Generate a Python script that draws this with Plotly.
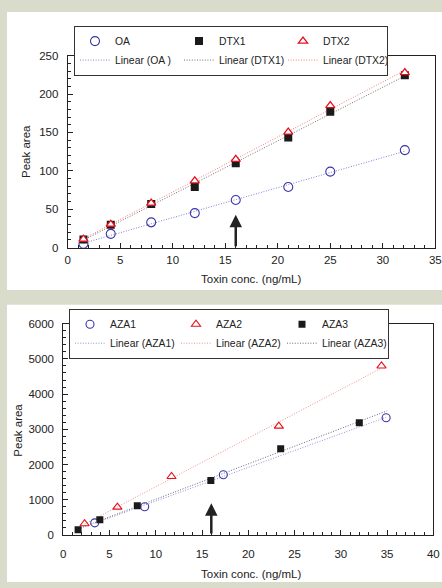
import numpy as np
import plotly.graph_objects as go

W, H = 442, 588
ML, MR = 63, 6           # horizontal margins (limit legend wrap width)
GW = W - ML - MR

# ---------------- data: top panel ----------------
top_x = [1.5, 4.1, 7.95, 12.1, 16.0, 21.0, 25.0, 32.1]
oa_y = [5, 18, 33, 45, 62, 79, 99, 127]
dtx1_y = [10.5, 29.8, 57, 79, 110, 143.5, 177, 224.5]
dtx2_y = [11, 30.5, 58, 87, 115, 150.5, 185, 228]

# ---------------- data: bottom panel ----------------
aza1_x = [3.4, 8.8, 17.3, 34.9]
aza1_y = [345, 800, 1710, 3330]
aza2_x = [2.3, 5.85, 11.7, 23.3, 34.4]
aza2_y = [320, 790, 1660, 3090, 4800]
aza3_x = [1.6, 3.95, 8.0, 15.95, 23.5, 32.0]
aza3_y = [150, 430, 830, 1550, 2450, 3190]
aza3_trend_end = 35.0

arrow_x = 16
top_arrow_tip = 43
bottom_arrow_tip = 900

FONT = "Liberation Sans, Arial, sans-serif"
TXT = "#222222"
DOTS = "1px,1.6px"

def px_x(p):
    return (p - ML) / GW

def px_y(p):
    return 1 - p / H

def trend(x, y, x_end=None):
    k, b = np.polyfit(x, y, 1)
    x0 = min(x)
    x1 = max(x) if x_end is None else x_end
    xs = np.array([x0, x1])
    return xs, k * xs + b

fig = go.Figure()

# ---- top panel trend lines (drawn first, below markers)
for name, ys, col, rank in [("Linear (OA )", oa_y, "#7f7fd6", 4),
                            ("Linear (DTX1)", dtx1_y, "#707070", 5),
                            ("Linear (DTX2)", dtx2_y, "#f07c7c", 6)]:
    xs, ys_fit = trend(top_x, ys)
    fig.add_trace(go.Scatter(x=xs, y=ys_fit, mode="lines", name=name,
                             line=dict(color=col, width=1, dash=DOTS),
                             xaxis="x", yaxis="y", legend="legend", legendrank=rank))

fig.add_trace(go.Scatter(x=top_x, y=oa_y, mode="markers", name="OA",
                         marker=dict(symbol="circle-open", size=9, color="#3c35a8",
                                     line=dict(width=1.1)),
                         xaxis="x", yaxis="y", legend="legend", legendrank=1))
fig.add_trace(go.Scatter(x=top_x, y=dtx1_y, mode="markers", name="DTX1",
                         marker=dict(symbol="square", size=8, color="#1a1a1a"),
                         xaxis="x", yaxis="y", legend="legend", legendrank=2))
fig.add_trace(go.Scatter(x=top_x, y=dtx2_y, mode="markers", name="DTX2",
                         marker=dict(symbol="triangle-up", size=8, color="white",
                                     line=dict(color="#e3101e", width=1.3)),
                         xaxis="x", yaxis="y", legend="legend", legendrank=3))

# ---- bottom panel trend lines
for name, xs_d, ys, col, rank, xend in [("Linear (AZA1)", aza1_x, aza1_y, "#9090dc", 4, None),
                                        ("Linear (AZA2)", aza2_x, aza2_y, "#f28e8e", 5, None),
                                        ("Linear (AZA3)", aza3_x, aza3_y, "#66667c", 6, aza3_trend_end)]:
    xs, ys_fit = trend(xs_d, ys, xend)
    fig.add_trace(go.Scatter(x=xs, y=ys_fit, mode="lines", name=name,
                             line=dict(color=col, width=1, dash=DOTS),
                             xaxis="x2", yaxis="y2", legend="legend2", legendrank=rank))

fig.add_trace(go.Scatter(x=aza1_x, y=aza1_y, mode="markers", name="AZA1",
                         marker=dict(symbol="circle-open", size=8, color="#3c35a8",
                                     line=dict(width=1.1)),
                         xaxis="x2", yaxis="y2", legend="legend2", legendrank=1))
fig.add_trace(go.Scatter(x=aza2_x, y=aza2_y, mode="markers", name="AZA2",
                         marker=dict(symbol="triangle-up-open", size=8, color="#e3101e",
                                     line=dict(width=1.1)),
                         xaxis="x2", yaxis="y2", legend="legend2", legendrank=2))
fig.add_trace(go.Scatter(x=aza3_x, y=aza3_y, mode="markers", name="AZA3",
                         marker=dict(symbol="square", size=7, color="#1a1a1a"),
                         xaxis="x2", yaxis="y2", legend="legend2", legendrank=3))

axis_common = dict(showgrid=False, zeroline=False, showline=True, linecolor=TXT,
                   linewidth=1, mirror=True, ticks="inside", ticklen=5, tickcolor=TXT,
                   tickfont=dict(family=FONT, size=11.5, color=TXT))

legend_common = dict(xanchor="left", yanchor="top", orientation="h",
                     entrywidthmode="pixels", bgcolor="white", bordercolor="#333333",
                     borderwidth=1, font=dict(family=FONT, size=10.4, color=TXT),
                     itemwidth=30, tracegroupgap=0)

fig.update_layout(
    width=W, height=H,
    margin=dict(l=ML, r=MR, t=0, b=0, pad=0),
    paper_bgcolor="#d9dccb",
    plot_bgcolor="white",
    font=dict(family=FONT, color=TXT),
    xaxis=dict(domain=[px_x(67.7), px_x(435.3)], anchor="y", range=[0, 35], dtick=5,
               minor=dict(dtick=1, ticks="inside", ticklen=3, tickcolor=TXT),
               ticklabelstandoff=2, **axis_common),
    yaxis=dict(domain=[px_y(246.7), px_y(50.7)], anchor="x", range=[0, 250], dtick=50,
               minor=dict(dtick=10, ticks="inside", ticklen=3, tickcolor=TXT),
               ticklabelstandoff=6, **axis_common),
    xaxis2=dict(domain=[max(0.0, px_x(63.3)), px_x(433.3)], anchor="y2", range=[0, 40], dtick=5,
                minor=dict(dtick=1, ticks="inside", ticklen=3, tickcolor=TXT),
                ticklabelstandoff=8, **axis_common),
    yaxis2=dict(domain=[px_y(540), px_y(324.3)], anchor="x2", range=[0, 6000], dtick=1000,
                minor=dict(dtick=200, ticks="inside", ticklen=3, tickcolor=TXT),
                ticklabelstandoff=6, **axis_common),
    legend=dict(x=px_x(74), y=px_y(20), entrywidth=59, **legend_common),
    legend2=dict(x=px_x(69), y=px_y(309), entrywidth=61, **legend_common),
    showlegend=True,
)

# white panels
fig.add_shape(type="rect", xref="paper", yref="paper", x0=px_x(7), x1=px_x(W),
              y0=px_y(290), y1=px_y(6), fillcolor="white", line_width=0, layer="below")
fig.add_shape(type="rect", xref="paper", yref="paper", x0=px_x(7), x1=px_x(W),
              y0=0, y1=px_y(305), fillcolor="white", line_width=0, layer="below")

# axis titles
title_font = dict(family=FONT, size=11.5, color=TXT)
ann_common = dict(xref="paper", yref="paper", showarrow=False, font=title_font,
                  xanchor="center", yanchor="middle")
fig.add_annotation(x=px_x(251.5), y=px_y(279), text="Toxin conc. (ng/mL)", **ann_common)
fig.add_annotation(x=px_x(26), y=px_y(149), text="Peak area", textangle=-90, **ann_common)
fig.add_annotation(x=px_x(251), y=px_y(580), text="Toxin conc. (ng/mL)", **ann_common)
fig.add_annotation(x=px_x(18.5), y=px_y(433), text="Peak area", textangle=-90, **ann_common)

# arrows
fig.add_annotation(x=arrow_x, y=top_arrow_tip, ax=arrow_x, ay=0, xref="x", yref="y",
                   axref="x", ayref="y", text="", showarrow=True, arrowhead=2,
                   arrowsize=1, arrowwidth=2.5, arrowcolor="#222222")
fig.add_annotation(x=arrow_x, y=bottom_arrow_tip, ax=arrow_x, ay=0, xref="x2", yref="y2",
                   axref="x2", ayref="y2", text="", showarrow=True, arrowhead=2,
                   arrowsize=1, arrowwidth=2.5, arrowcolor="#222222")

fig.write_html("out.html", config={"displayModeBar": False},
               post_script="document.body.style.margin='0px';document.body.style.padding='0px';document.body.style.overflow='hidden';")
